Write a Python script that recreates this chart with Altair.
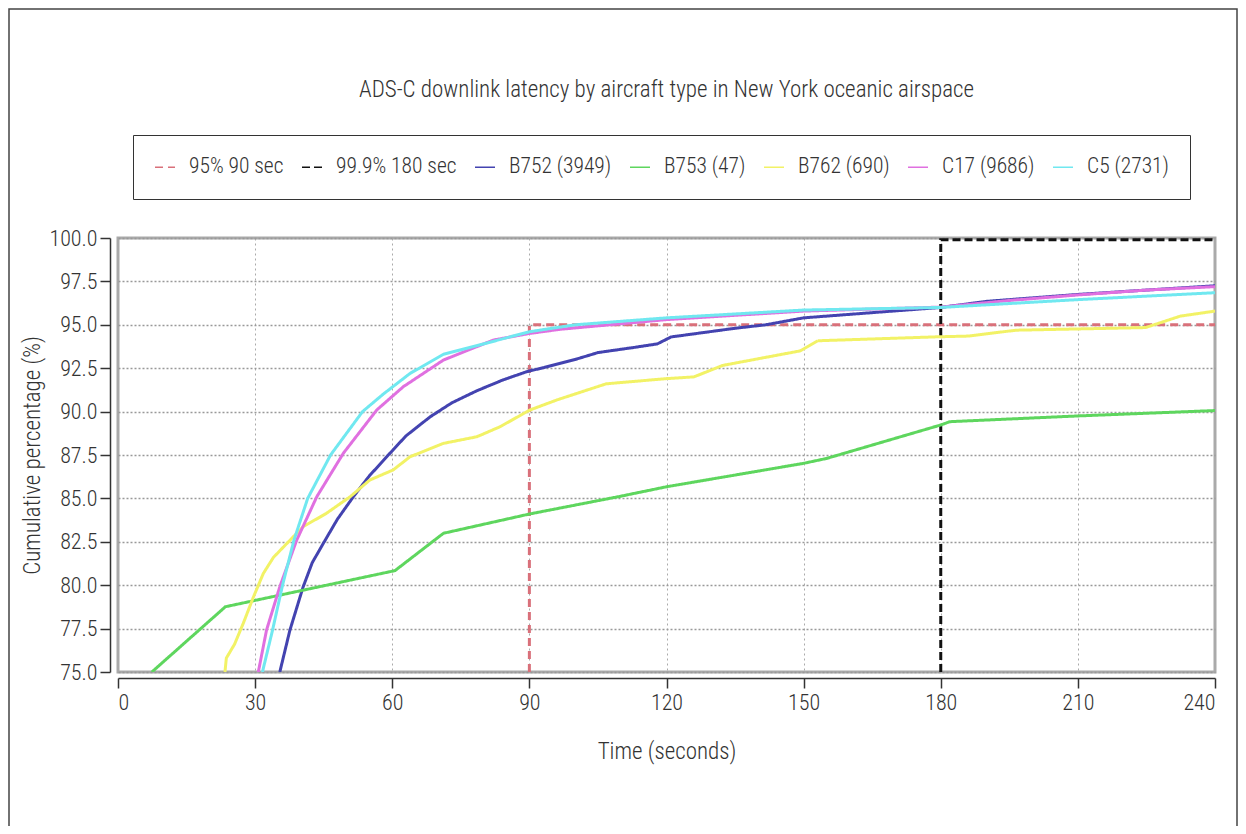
import altair as alt
import pandas as pd

FONT = "'Roboto Condensed', 'DejaVu Sans Condensed', 'Liberation Sans Narrow', 'Liberation Sans', sans-serif"

series_names = ["95% 90 sec", "99.9% 180 sec", "B752 (3949)", "B753 (47)",
                "B762 (690)", "C17 (9686)", "C5 (2731)"]
series_colors = ["#d9707a", "#111111", "#4343b0", "#5ed65e", "#f2f266", "#e070e0", "#70e8f0"]
series_dashes = [[8, 5], [8, 4], [1, 0], [1, 0], [1, 0], [1, 0], [1, 0]]

x_ticks = [0, 30, 60, 90, 120, 150, 180, 210, 240]
y_ticks = [75.0, 77.5, 80.0, 82.5, 85.0, 87.5, 90.0, 92.5, 95.0, 97.5, 100.0]

thr95_t = [90, 90, 240]
thr95_v = [75.0, 95.0, 95.0]

thr999_t = [180, 180, 240]
thr999_v = [75.0, 99.9, 99.9]

b752_t = [35.4, 37.6, 40.5, 42.5, 44.9, 48.0, 51.5, 55.0, 58.8, 63.0, 68.3, 73.0, 78.5, 84.0,
          89.4, 92.6, 100.0, 105.0, 113.0, 118.0, 121.0, 135.0, 141.7, 150.0, 160.0, 170.0,
          180.0, 190.0, 200.0, 210.0, 225.0, 240.0]
b752_v = [75.0, 77.4, 79.9, 81.3, 82.4, 83.8, 85.1, 86.3, 87.4, 88.6, 89.7, 90.5, 91.2, 91.8,
          92.3, 92.5, 93.0, 93.4, 93.7, 93.9, 94.3, 94.8, 95.0, 95.4, 95.6, 95.8,
          96.0, 96.35, 96.55, 96.75, 97.0, 97.25]

b753_t = [7.4, 23.5, 60.6, 71.2, 90.0, 109.5, 120.0, 150.0, 155.0, 180.0, 182.0, 210.0, 240.0]
b753_v = [75.0, 78.76, 80.84, 82.99, 84.1, 85.1, 85.67, 87.02, 87.3, 89.23, 89.42, 89.75, 90.06]

b762_t = [23.4, 23.7, 25.5, 27.4, 29.6, 31.8, 34.0, 36.2, 40.5, 45.6, 50.8, 55.1, 60.2, 63.9,
          71.2, 78.5, 83.6, 90.1, 96.0, 106.8, 120.0, 126.0, 132.3, 149.3, 153.1, 179.5,
          186.0, 196.5, 224.8, 232.4, 240.0]
b762_v = [75.0, 75.8, 76.6, 77.8, 79.3, 80.68, 81.6, 82.2, 83.37, 84.14, 85.1, 86.06, 86.64, 87.4,
          88.17, 88.55, 89.13, 90.09, 90.67, 91.6, 91.9, 92.0, 92.66, 93.5, 94.08, 94.31,
          94.35, 94.69, 94.84, 95.5, 95.79]

c17_t = [30.7, 32.5, 35.4, 39.1, 43.5, 49.3, 56.6, 62.4, 71.2, 82.1, 90.0, 96.7, 120.0,
         150.0, 180.0, 195.0, 210.0, 225.0, 240.0]
c17_v = [75.0, 77.42, 79.91, 82.6, 85.1, 87.6, 90.09, 91.43, 92.97, 94.12, 94.5, 94.74, 95.3,
         95.79, 96.02, 96.4, 96.72, 97.0, 97.2]

c5_t = [31.6, 33.8, 36.0, 38.5, 41.5, 46.5, 53.5, 58.0, 63.9, 71.2, 80.0, 90.0, 100.0, 120.0,
        150.0, 180.0, 210.0, 240.0]
c5_v = [75.0, 77.4, 80.0, 82.6, 85.0, 87.5, 90.0, 91.0, 92.2, 93.3, 93.9, 94.6, 95.0, 95.4,
        95.85, 96.0, 96.45, 96.85]

all_t = [thr95_t, thr999_t, b752_t, b753_t, b762_t, c17_t, c5_t]
all_v = [thr95_v, thr999_v, b752_v, b753_v, b762_v, c17_v, c5_v]

rows = []
for name, ts, vs in zip(series_names, all_t, all_v):
    for i, (t, v) in enumerate(zip(ts, vs)):
        rows.append({"series": name, "t": t, "v": v, "idx": i})
df = pd.DataFrame(rows)

legend = alt.Legend(
    title=None, orient="none", legendX=15, legendY=-103, direction="horizontal", columns=7,
    strokeColor="#333333", fillColor="#ffffff", padding=21, labelFontSize=21.5, labelFont=FONT,
    labelFontWeight=300, labelColor="#333333", symbolType="stroke", symbolSize=400,
    symbolStrokeWidth=1.5, labelOffset=13, columnPadding=15, cornerRadius=0,
)

lines = alt.Chart(df).mark_line(strokeWidth=3, clip=True).encode(
    x=alt.X("t:Q", scale=alt.Scale(domain=[0, 240], nice=False, zero=False),
            axis=alt.Axis(values=x_ticks, title="Time (seconds)", offset=6, tickSize=10,
                          labelPadding=4, titlePadding=27, gridDash=[2, 3], gridColor="#aaaaaa",
                          gridWidth=1)),
    y=alt.Y("v:Q", scale=alt.Scale(domain=[75, 100], nice=False, zero=False),
            axis=alt.Axis(values=y_ticks, format=".1f", title="Cumulative percentage (%)",
                          offset=8, tickSize=10, labelPadding=3, titlePadding=4,
                          gridDash=[2, 2], gridColor="#999999", gridWidth=1.5)),
    color=alt.Color("series:N", scale=alt.Scale(domain=series_names, range=series_colors),
                    legend=legend),
    strokeDash=alt.StrokeDash("series:N", scale=alt.Scale(domain=series_names, range=series_dashes),
                              legend=legend),
    order=alt.Order("idx:Q"),
)

frame = alt.Chart(pd.DataFrame({"k": [0]})).mark_rect(
    fill=None, stroke="#444444", strokeWidth=1.5
).encode(x=alt.value(-109), x2=alt.value(1119), y=alt.value(-229), y2=alt.value(620))

chart = alt.layer(frame, lines).properties(
    width=1097, height=434,
    title=alt.Title("ADS-C downlink latency by aircraft type in New York oceanic airspace",
                    fontSize=23, font=FONT, fontWeight=300, color="#333333",
                    frame="group", anchor="middle", offset=-94),
    autosize=alt.AutoSizeParams(type="none"),
    padding={"left": 110, "top": 230, "right": 23, "bottom": 154},
).configure_axis(
    labelFont=FONT, titleFont=FONT, labelFontSize=22, titleFontSize=23,
    labelFontWeight=300, titleFontWeight=300,
    labelColor="#333333", titleColor="#333333",
    domainColor="#333333", domainWidth=1.5, tickColor="#333333", tickWidth=1.5,
).configure_view(
    stroke="#aaaaaa", strokeWidth=3
)

chart.save("out.html", embed_options={"renderer": "svg", "actions": False})
